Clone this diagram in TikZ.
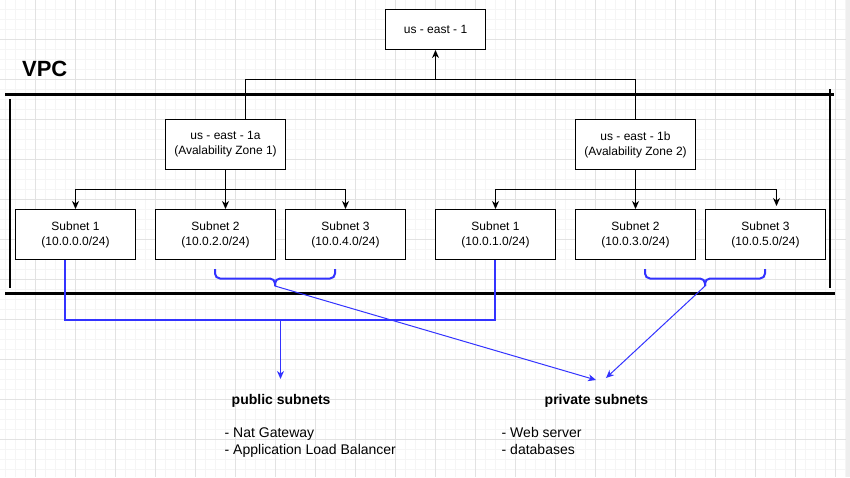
\documentclass[tikz,border=0pt]{standalone}
\usepackage{fontspec}
\setmainfont{Liberation Sans}
\usetikzlibrary{arrows.meta}
\definecolor{bl}{RGB}{51,51,255}
\definecolor{gmaj}{RGB}{226,226,226}
\definecolor{gmin}{RGB}{245,245,245}
\definecolor{edgegray}{RGB}{238,238,238}
\begin{document}
\begin{tikzpicture}[x=1pt,y=-1pt,
  box/.style={draw,line width=1pt,fill=white,minimum width=120pt,minimum height=50pt,inner sep=0pt,align=center,font=\fontsize{12}{15}\selectfont},
  conn/.style={line width=1pt,-{Stealth[length=8pt,width=7pt,inset=2.5pt]}},
  plain/.style={line width=1pt},
  publine/.style={line width=2pt,draw=bl},
  bluearr/.style={line width=1pt,draw=bl,-{Stealth[length=8pt,width=7pt,inset=2.5pt,fill=bl]}},
  bracestyle/.style={line width=2pt,draw=bl,rounded corners=5pt},
  thick frame/.style={line width=3pt},
  side frame/.style={line width=2pt},
  title/.style={anchor=base west,inner sep=0pt,font=\bfseries\fontsize{14}{17}\selectfont},
  item/.style={anchor=base west,inner sep=0pt,font=\fontsize{14}{17}\selectfont}
]
\useasboundingbox (0,0) rectangle (850,477);
\fill[white] (0,0) rectangle (850,477);
% grid
\foreach \x in {5.5,15.5,...,845.5} \draw[gmin,line width=1pt] (\x,0) -- (\x,477);
\foreach \y in {9.5,19.5,...,475} \draw[gmin,line width=1pt] (0,\y) -- (846,\y);
\foreach \x in {35.5,75.5,...,835.5} \draw[gmaj,line width=1pt] (\x,0) -- (\x,477);
\foreach \y in {39.5,79.5,...,475} \draw[gmaj,line width=1pt] (0,\y) -- (846,\y);
\fill[edgegray] (846,0) rectangle (850,477);

% VPC label and frame
\node[inner sep=0pt,font=\bfseries\fontsize{22}{26}\selectfont] (vpc) at (44.7,69) {VPC};
\draw[thick frame] (5,94) -- (834,94);
\draw[thick frame] (5,293) -- (835,293);
\draw[side frame] (10,99) -- (10,288);
\draw[side frame] (830,89) -- (830,288);

% boxes
\node[box,minimum width=100pt,minimum height=40pt] (top) at (435.5,29.5) {us - east - 1};
\node[box] (z1) at (225.5,144.5) {us - east - 1a\\(Avalability Zone 1)};
\node[box] (z2) at (635.5,144.5) {us - east - 1b\\(Avalability Zone 2)};
\node[box] (s1) at (75.5,234.5) {Subnet 1\\(10.0.0.0/24)};
\node[box] (s2) at (215.5,234.5) {Subnet 2\\(10.0.2.0/24)};
\node[box] (s3) at (345.5,234.5) {Subnet 3\\(10.0.4.0/24)};
\node[box] (t1) at (495.5,234.5) {Subnet 1\\(10.0.1.0/24)};
\node[box] (t2) at (635.5,234.5) {Subnet 2\\(10.0.3.0/24)};
\node[box] (t3) at (765.5,234.5) {Subnet 3\\(10.0.5.0/24)};

% black connectors
\coordinate (j1) at (245.5,79.5);
\coordinate (j2) at (635.5,79.5);
\draw[plain] (z1.north -| j1) -- (j1) -- (j2) -- (z2.north);
\draw[conn] (top.south |- j1) -- (top.south);
\coordinate (d1) at (225.5,189.5);
\coordinate (d2) at (635.5,189.5);
\draw[conn] (z1.south) -- (z1.south |- s2.north);
\draw[conn] (d1) -| (s1.north);
\draw[conn] (d1) -| (s3.north);
\coordinate (t3a) at (776.5,206);
\draw[conn] (z2.south) -- (t2.north);
\draw[conn] (d2) -| (t1.north);
\draw[conn] (d2) -| (t3a);

% public subnets connector
\coordinate (pa) at (65,319.5);
\coordinate (pb) at (494.5,319.5);
\draw[publine] (pa |- s1.south) -- (pa) -- (pb) -- (pb |- t1.south);
\coordinate (pm) at (280.5,319.5);
\coordinate (pe) at (280.5,379);
\draw[bluearr] (pm) -- (pe);

% braces
\draw[bracestyle] (215,269) -- (215,278.5) -- (275,278.5) -- (275,286);
\draw[bracestyle] (335,269) -- (335,278.5) -- (275,278.5) -- (275,286);
\draw[bracestyle] (645,269) -- (645,278.5) -- (705,278.5) -- (705,286);
\draw[bracestyle] (765,269) -- (765,278.5) -- (705,278.5) -- (705,286);
\coordinate (b1) at (275,286);
\coordinate (b2) at (705,286);
\coordinate (pv1) at (596,380);
\coordinate (pv2) at (606,378);
\draw[bluearr] (b1) -- (pv1);
\draw[bluearr] (b2) -- (pv2);

% bottom texts
\node[title] (pubt) at (231.5,404) {public subnets};
\node[item] (pub1) at (224.5,437.5) {- Nat Gateway};
\node[item] (pub2) at (224.5,454.5) {- Application Load Balancer};
\node[title] (privt) at (544.5,404) {private subnets};
\node[item] (priv1) at (501.5,437.5) {- Web server};
\node[item] (priv2) at (501.5,454.5) {- databases};
\end{tikzpicture}
\end{document}
